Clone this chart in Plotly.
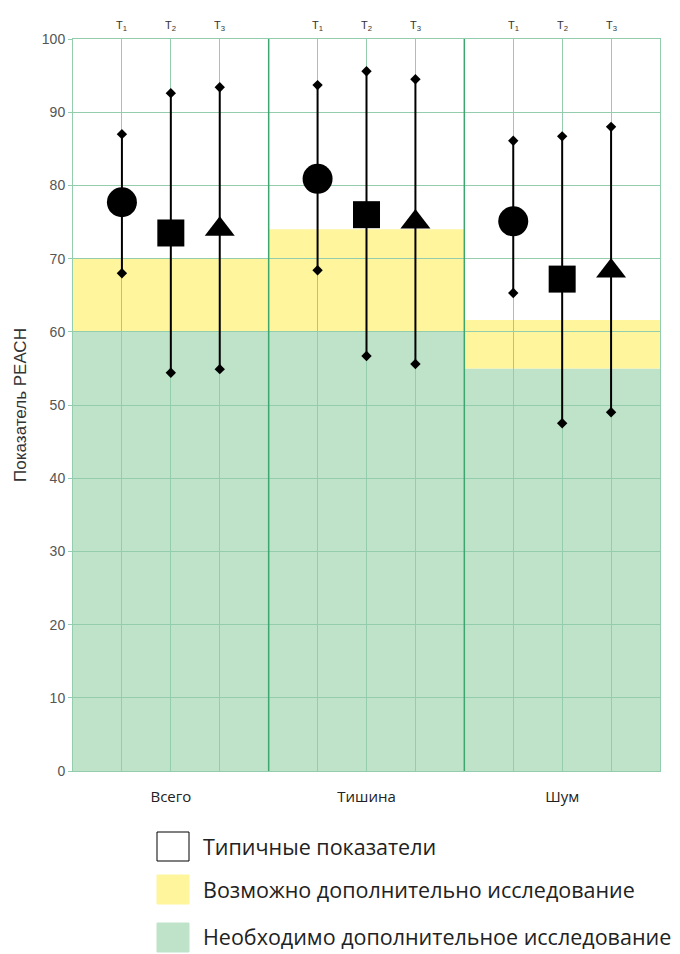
import plotly.graph_objects as go

# ---------------- data ----------------
groups = ["Всего", "Тишина", "Шум"]
time_labels = ["T<sub>1</sub>", "T<sub>2</sub>", "T<sub>3</sub>"]
# typical-score bands per group: yellow band top, green band top
yellow_top = [70.0, 74.0, 61.6]
green_top = [60.0, 60.0, 55.0]
# mean values per group (T1, T2, T3)
t1_mean = [77.7, 80.9, 75.1]
t2_mean = [73.5, 76.0, 67.2]
t3_mean = [74.0, 75.0, 68.3]
# ranges (min / max) per group
t1_min = [68.0, 68.4, 65.3]
t1_max = [87.0, 93.7, 86.1]
t2_min = [54.4, 56.7, 47.5]
t2_max = [92.6, 95.6, 86.7]
t3_min = [54.9, 55.6, 49.0]
t3_max = [93.4, 94.5, 88.0]
legend_labels = ["Типичные показатели",
                 "Возможно дополнительно исследование",
                 "Необходимо дополнительное исследование"]

# ---------------- styles ----------------
GREEN_FILL = "#BEE3C9"
YELLOW_FILL = "#FFF59C"
GRID = "#93CDAE"
SEP = "#3DA56E"

fig = go.Figure()

# positions: each group spans 4 units, T positions at 1,2,3 within group
def xpos(g, t):
    return g * 4 + 1 + t

shapes = []
for g in range(len(groups)):
    x0, x1 = g * 4, g * 4 + 4
    shapes.append(dict(type="rect", xref="x", yref="y", x0=x0, x1=x1, y0=0, y1=green_top[g],
                       fillcolor=GREEN_FILL, line_width=0, layer="below"))
    shapes.append(dict(type="rect", xref="x", yref="y", x0=x0, x1=x1, y0=green_top[g], y1=yellow_top[g],
                       fillcolor=YELLOW_FILL, line_width=0, layer="below"))
for xs in [4, 8]:
    shapes.append(dict(type="line", xref="x", yref="y", x0=xs, x1=xs, y0=0, y1=100,
                       line=dict(color=SEP, width=1.5), layer="between"))

series = [
    (t1_mean, t1_min, t1_max, "circle", 30),
    (t2_mean, t2_min, t2_max, "square", 27),
    (t3_mean, t3_min, t3_max, "triangle-up", 26),
]
for t, (mean, lo, hi, sym, sz) in enumerate(series):
    lx, ly = [], []
    dx, dy = [], []
    for g in range(len(groups)):
        x = xpos(g, t)
        lx += [x, x, None]
        ly += [lo[g], hi[g], None]
        dx += [x, x]
        dy += [lo[g], hi[g]]
    fig.add_trace(go.Scatter(x=lx, y=ly, mode="lines", line=dict(color="black", width=2),
                             showlegend=False, hoverinfo="skip"))
    fig.add_trace(go.Scatter(x=dx, y=dy, mode="markers",
                             marker=dict(symbol="diamond", size=8, color="black"),
                             showlegend=False))
    fig.add_trace(go.Scatter(x=[xpos(g, t) for g in range(len(groups))], y=mean, mode="markers",
                             marker=dict(symbol=sym, size=sz, color="black"),
                             showlegend=False))

annotations = []
# T labels on top
for g in range(len(groups)):
    for t in range(3):
        annotations.append(dict(x=xpos(g, t), y=1, xref="x", yref="paper", text=time_labels[t],
                                showarrow=False, yanchor="bottom", yshift=4,
                                font=dict(family="Liberation Sans", size=11, color="#333")))

# legend drawn below the plot (paper coords; plot area 39..771 px, 732 tall; left 73, 587 wide)
def py(p):
    return (771 - p) / 732.0

def px(p):
    return (p - 73) / 587.0

fills = ["white", YELLOW_FILL, GREEN_FILL]
borders = ["black", YELLOW_FILL, GREEN_FILL]
rows_px = [846, 889, 937]
for i, lab in enumerate(legend_labels):
    yc = rows_px[i]
    shapes.append(dict(type="rect", xref="paper", yref="paper",
                       x0=px(157), x1=px(189),
                       y0=py(yc + 15), y1=py(yc - 14),
                       fillcolor=fills[i], line=dict(color=borders[i], width=1)))
    annotations.append(dict(x=px(201), y=py(yc), xref="paper", yref="paper",
                            text=lab, showarrow=False, xanchor="left", yanchor="middle",
                            font=dict(family="Open Sans", size=21.5, color="#222")))

# page body has an 8px margin, so the figure is 8px smaller and margins shifted by 8px
fig.update_layout(
    width=672, height=946,
    margin=dict(l=65, r=20, t=31, b=183),
    paper_bgcolor="white", plot_bgcolor="white",
    shapes=shapes, annotations=annotations,
    xaxis=dict(range=[0, 12], tickvals=[2, 6, 10], ticktext=groups,
               showgrid=True, gridcolor=GRID, gridwidth=1,
               minor=dict(dtick=1, tick0=0, showgrid=True, gridcolor=GRID, gridwidth=1),
               ticks="", showline=True, linecolor=GRID, mirror=True,
               tickfont=dict(family="Open Sans", size=15, color="#222"),
               ticklabelstandoff=12, zeroline=False, fixedrange=True),
    yaxis=dict(range=[0, 100], dtick=10, showgrid=True, gridcolor=GRID, gridwidth=1,
               ticks="outside", ticklen=4, tickcolor=GRID,
               showline=True, linecolor=GRID, mirror=True, zeroline=False,
               tickfont=dict(family="Liberation Sans", size=14, color="#555"),
               title=dict(text="Показатель РЕАСН", standoff=10,
                          font=dict(family="Liberation Sans", size=17, color="#333"))),
)

fig.write_html("out.html")
